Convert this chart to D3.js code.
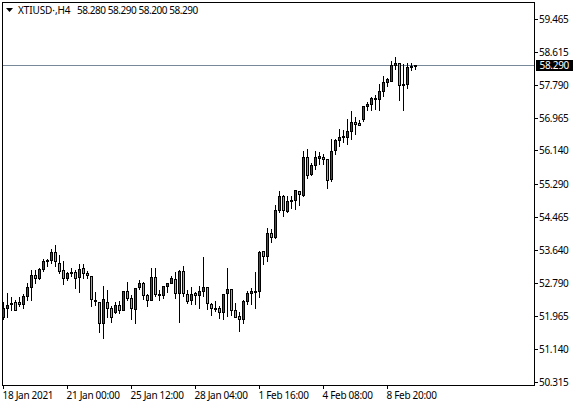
<!DOCTYPE html>
<html><head><meta charset="utf-8">
<script src="https://cdnjs.cloudflare.com/ajax/libs/d3/7.8.5/d3.min.js"></script>
<style>html,body{margin:0;padding:0;background:#fff;overflow:hidden}svg{display:block}text{font-family:"Noto Sans",sans-serif;font-size:10px;fill:#000;letter-spacing:-0.3px}</style>
</head><body><svg id="c" width="575" height="406"></svg>
<script>
const highs=[52.34,52.58,52.48,52.40,52.47,52.55,52.82,53.14,53.15,53.21,53.42,53.44,53.68,53.79,53.54,53.37,53.10,53.21,53.15,53.29,53.31,53.12,52.99,52.60,52.33,52.75,52.65,52.25,52.35,52.38,52.60,52.86,52.51,52.68,52.90,52.84,52.55,53.19,53.19,52.65,52.75,52.80,53.00,53.10,53.14,53.24,52.65,52.73,52.60,52.75,53.49,52.72,52.33,52.38,52.25,52.55,53.19,52.68,52.33,52.08,52.40,52.63,52.70,53.09,53.64,53.64,54.21,54.18,54.79,55.15,55.05,55.02,55.02,55.15,55.15,56.15,56.20,55.85,56.15,56.13,56.08,55.95,56.46,56.46,56.71,56.67,56.96,57.15,57.00,56.94,57.27,57.38,57.51,57.56,57.83,58.03,58.00,58.41,58.51,58.37,58.35,58.36,58.36,58.29];
const lows=[51.90,51.93,52.11,52.11,52.23,52.16,52.37,52.37,52.80,52.89,53.10,53.22,53.29,53.22,53.05,52.77,52.87,52.97,52.68,52.57,52.92,52.92,52.21,52.25,51.56,51.41,51.95,51.81,52.03,52.05,52.11,52.37,51.88,51.78,52.65,52.40,52.23,52.37,52.47,52.37,52.42,52.58,52.79,52.42,51.81,52.47,52.30,52.27,52.28,52.16,52.47,52.13,51.98,52.08,51.91,51.90,51.96,51.98,51.95,51.58,51.78,52.27,52.28,52.17,52.44,53.27,53.36,53.83,53.93,54.58,54.48,54.60,54.70,54.67,54.76,54.99,55.44,55.52,55.68,55.81,55.79,55.19,55.37,56.06,56.25,56.35,56.29,56.42,56.55,56.77,56.87,57.17,57.17,57.19,57.17,57.52,57.76,57.88,58.20,57.42,57.17,57.71,58.16,58.20];
const opens=[51.95,52.16,52.27,52.32,52.32,52.27,52.48,52.70,53.00,52.92,53.15,53.35,53.37,53.58,53.31,53.13,52.92,53.05,53.08,52.95,53.18,53.05,52.98,52.35,52.32,51.79,52.32,52.17,52.06,52.25,52.12,52.60,52.42,52.15,52.70,52.80,52.50,52.37,52.95,52.50,52.50,52.72,52.80,52.90,52.55,53.10,52.52,52.37,52.55,52.50,52.60,52.70,52.27,52.15,52.17,52.07,52.55,52.65,52.12,51.97,51.90,52.35,52.55,52.58,52.59,53.61,53.48,54.06,53.95,54.64,55.00,54.62,54.86,54.89,55.12,55.02,55.98,55.55,55.78,55.96,55.98,55.93,55.42,56.15,56.40,56.48,56.48,56.63,56.86,56.84,56.93,57.25,57.31,57.43,57.43,57.64,57.87,57.90,58.29,58.35,57.79,57.81,58.24,58.28];
const closes=[52.16,52.25,52.30,52.11,52.27,52.48,52.70,53.00,52.92,53.15,53.36,53.38,53.58,53.34,53.10,52.92,53.05,53.08,52.92,53.15,53.05,53.00,52.40,52.37,51.79,52.40,52.17,51.95,52.25,52.11,52.60,52.42,52.17,52.68,52.80,52.50,52.37,52.95,52.52,52.52,52.72,52.80,52.93,52.55,53.10,52.55,52.35,52.52,52.50,52.60,52.70,52.30,52.17,52.17,52.07,52.52,52.65,52.12,51.95,51.90,52.35,52.55,52.60,52.60,53.58,53.48,54.06,53.96,54.64,55.00,54.64,54.87,54.89,55.15,55.05,55.98,55.52,55.78,55.98,55.99,55.92,55.40,56.13,56.41,56.48,56.51,56.63,56.86,56.80,56.79,57.26,57.31,57.47,57.47,57.64,57.87,57.95,58.30,58.35,57.79,57.82,58.25,58.28,58.29];
const priceTicks=[59.465,58.615,57.790,56.965,56.140,55.290,54.465,53.640,52.790,51.965,51.140,50.315];
const timeTickBars=[0,16,32,48,64,80,96];
const timeTickLabels=["18 Jan 2021","21 Jan 00:00","25 Jan 12:00","28 Jan 04:00","1 Feb 16:00","4 Feb 08:00","8 Feb 20:00"];
const lastPrice=58.290;
const symbolText="XTIUSD\u00B7,H4";
const quoteText="58.280 58.290 58.200 58.290";
const UP="#ff0000",DOWN="#00ff7f";

const svg=d3.select("#c");
const x=d3.scaleLinear().domain([0,103]).range([3.5,415.5]);
const y=d3.scaleLinear().domain([50.315,59.465]).range([382,19]);
const py=v=>Math.floor(y(v))+.5;
const F={l:2.5,t:2.5,r:534.5,b:385.5};

svg.append("line").attr("x1",F.l).attr("x2",F.r).attr("y1",py(lastPrice)).attr("y2",py(lastPrice)).attr("stroke","#778899").attr("shape-rendering","crispEdges");

const g=svg.append("g").attr("shape-rendering","crispEdges");
const idx=d3.range(highs.length);
g.selectAll(".w").data(idx).join("line").attr("x1",i=>x(i)).attr("x2",i=>x(i))
 .attr("y1",i=>py(highs[i])).attr("y2",i=>py(lows[i])).attr("stroke","#000");
g.selectAll(".b").data(idx).join("rect").attr("x",i=>x(i)-1)
 .attr("width",2).attr("y",i=>py(Math.max(opens[i],closes[i])))
 .attr("height",i=>Math.max(py(Math.min(opens[i],closes[i]))-py(Math.max(opens[i],closes[i])),0))
 .attr("fill",i=>closes[i]>=opens[i]?UP:DOWN).attr("stroke","#000");

svg.append("rect").attr("x",F.l).attr("y",F.t).attr("width",F.r-F.l).attr("height",F.b-F.t).attr("fill","none").attr("stroke","#000").attr("shape-rendering","crispEdges");

const ay=svg.append("g").attr("transform",`translate(${F.r},0)`).call(d3.axisRight(y).tickValues(priceTicks).tickFormat(d3.format(".3f")).tickSize(3).tickPadding(1.5));
ay.select(".domain").remove();
ay.selectAll(".tick").attr("transform",d=>`translate(0,${py(d)})`);
ay.selectAll("line").attr("stroke","#000").attr("shape-rendering","crispEdges");
ay.selectAll("text").style("font-size","10px").style("font-family",'"Noto Sans",sans-serif');

const ax=svg.append("g").attr("transform",`translate(0,${F.b})`).call(d3.axisBottom(x).tickValues(timeTickBars).tickFormat((d,i)=>timeTickLabels[i]).tickSize(3).tickPadding(3));
ax.select(".domain").remove();
ax.selectAll(".tick").attr("transform",d=>`translate(${x(d)},0)`);
ax.selectAll("line").attr("stroke","#000").attr("shape-rendering","crispEdges");
ax.selectAll("text").attr("text-anchor","start").attr("dx",-1).style("font-size","10px").style("font-family",'"Noto Sans",sans-serif');

svg.append("rect").attr("x",536).attr("y",py(lastPrice)-5.5).attr("width",37).attr("height",11).attr("fill","#000");
svg.append("text").attr("x",539.5).attr("y",py(lastPrice)+3.5).style("fill","#fff").text(d3.format(".3f")(lastPrice));

svg.append("path").attr("d",d3.line()([[6,8],[13,8],[9.5,12]])+"Z").attr("fill","#000");
svg.append("text").attr("x",18).attr("y",13.5).style("letter-spacing","-0.1px").text(symbolText);
svg.append("text").attr("x",77).attr("y",13.5).style("letter-spacing","-0.45px").text(quoteText);
</script></body></html>
